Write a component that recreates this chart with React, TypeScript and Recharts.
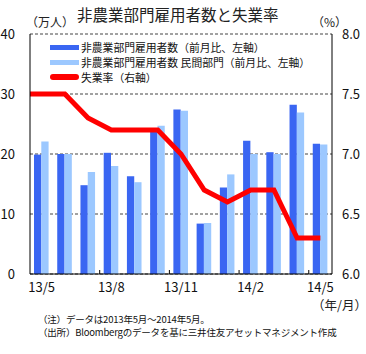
import React from 'react';
import { ComposedChart, Bar, Line, XAxis, YAxis, CartesianGrid } from 'recharts';

const months = ['13/5','13/6','13/7','13/8','13/9','13/10','13/11','13/12','14/1','14/2','14/3','14/4','14/5'];
const totalNonfarm = [19.9, 20.0, 14.8, 20.2, 16.3, 23.7, 27.4, 8.4, 14.4, 22.2, 20.3, 28.2, 21.7];
const privateNonfarm = [22.1, 20.0, 17.0, 18.0, 15.3, 24.7, 27.2, 8.5, 16.6, 20.0, 20.0, 26.9, 21.6];
const unemployment = [7.5, 7.5, 7.3, 7.2, 7.2, 7.2, 7.0, 6.7, 6.6, 6.7, 6.7, 6.3, 6.3];
const prevMonthUnemployment = 7.5; // 13/4
const leftTicks = [0, 10, 20, 30, 40];
const rightTicks = [6.0, 6.5, 7.0, 7.5, 8.0];

const seriesNames = ['非農業部門雇用者数（前月比、左軸）', '非農業部門雇用者数 民間部門（前月比、左軸）', '失業率（右軸）'];

const DARK = '#3a66f2';
const LIGHT = '#9cc8ff';
const RED = '#ff0000';
const FONT = '"Noto Sans CJK JP", "Noto Sans", sans-serif';

const rows = months.map((m, i) => ({ month: m, total: totalNonfarm[i], priv: privateNonfarm[i] }));
const lineRows = [{ pos: -1, rate: prevMonthUnemployment }, ...unemployment.map((r, i) => ({ pos: i, rate: r }))];

const XTick = (props: any) => {
  const { x, y, payload, index } = props;
  if (index % 3 !== 0) return <g />;
  const half = payload && payload.offset ? payload.offset : 302 / 13 / 2;
  return (
    <g>
      {index > 0 && <line x1={x - half} x2={x - half} y1={y} y2={y - 4} stroke="#000" strokeWidth={1} />}
      <text x={x} y={y + 18} textAnchor="middle" fontSize={13} fill="#111" fontFamily={FONT}>{payload.value}</text>
    </g>
  );
};

export default function App() {
  return (
    <div style={{ position: 'absolute', left: 0, top: 0, width: 366, height: 354, background: '#fff', fontFamily: FONT }}>
      <ComposedChart width={366} height={354} data={rows} margin={{ top: 34, right: 0, bottom: 50, left: 0 }} barGap={0}>
        <CartesianGrid yAxisId="left" xAxisId="cat" vertical={false} stroke="#444" strokeDasharray="3 2" />
        <XAxis xAxisId="cat" dataKey="month" height={30} interval={0} tickLine={false} tickSize={0} tickMargin={0} tick={<XTick />} axisLine={{ stroke: '#000' }} />
        <XAxis xAxisId="pos" type="number" dataKey="pos" domain={[-0.5, 12.5]} allowDataOverflow hide />
        <YAxis yAxisId="left" domain={[0, 40]} ticks={leftTicks} width={30} tickLine={false} tickMargin={9}
          axisLine={{ stroke: '#000' }} tick={{ fontSize: 13, fill: '#111', fontFamily: FONT }} />
        <YAxis yAxisId="right" orientation="right" domain={[6, 8]} ticks={rightTicks} width={34} tickLine={false} tickMargin={4}
          axisLine={{ stroke: '#000' }} tickFormatter={(v: number) => v.toFixed(1)} tick={{ fontSize: 13, fill: '#111', fontFamily: FONT, textAnchor: 'start' }} />
        <Bar xAxisId="cat" yAxisId="left" dataKey="total" fill={DARK} barSize={7.3} isAnimationActive={false} />
        <Bar xAxisId="cat" yAxisId="left" dataKey="priv" fill={LIGHT} barSize={7.3} isAnimationActive={false} />
        <Line xAxisId="pos" yAxisId="right" data={lineRows} dataKey="rate" stroke={RED} strokeWidth={5} dot={false}
          activeDot={false} strokeLinejoin="miter" isAnimationActive={false} />
      </ComposedChart>

      <div style={{ position: 'absolute', left: 77, top: 4, fontSize: 15.5, color: '#222', whiteSpace: 'nowrap', lineHeight: '20px' }}>非農業部門雇用者数と失業率</div>
      <div style={{ position: 'absolute', left: 26, top: 14, fontSize: 12, color: '#222', whiteSpace: 'nowrap', lineHeight: '16px' }}>（万人）</div>
      <div style={{ position: 'absolute', left: 312, top: 15, fontSize: 12, color: '#222', whiteSpace: 'nowrap', lineHeight: '13px' }}>（%）</div>
      <div style={{ position: 'absolute', left: 312, top: 297, fontSize: 12.5, color: '#222', whiteSpace: 'nowrap', lineHeight: '16px' }}>（年/月）</div>

      <div style={{ position: 'absolute', left: 50, top: 40, fontSize: 10.8, color: '#111', lineHeight: '14.8px', whiteSpace: 'nowrap' }}>
        {seriesNames.map((n, i) => (
          <div key={n} style={{ display: 'flex', alignItems: 'center', height: 14.8 }}>
            <span style={{ display: 'inline-block', width: 29, height: i === 2 ? 6 : 5, borderRadius: i === 2 ? 3 : 0, background: i === 0 ? DARK : i === 1 ? LIGHT : RED, marginRight: 2 }} />
            <span>{n}</span>
          </div>
        ))}
      </div>

      <div style={{ position: 'absolute', left: 38, top: 313, fontSize: 9.5, color: '#111', lineHeight: '13px', whiteSpace: 'nowrap', letterSpacing: -0.2 }}>
        <div>（注）データは2013年5月～2014年5月。</div>
        <div>（出所）Bloombergのデータを基に三井住友アセットマネジメント作成</div>
      </div>
    </div>
  );
}
